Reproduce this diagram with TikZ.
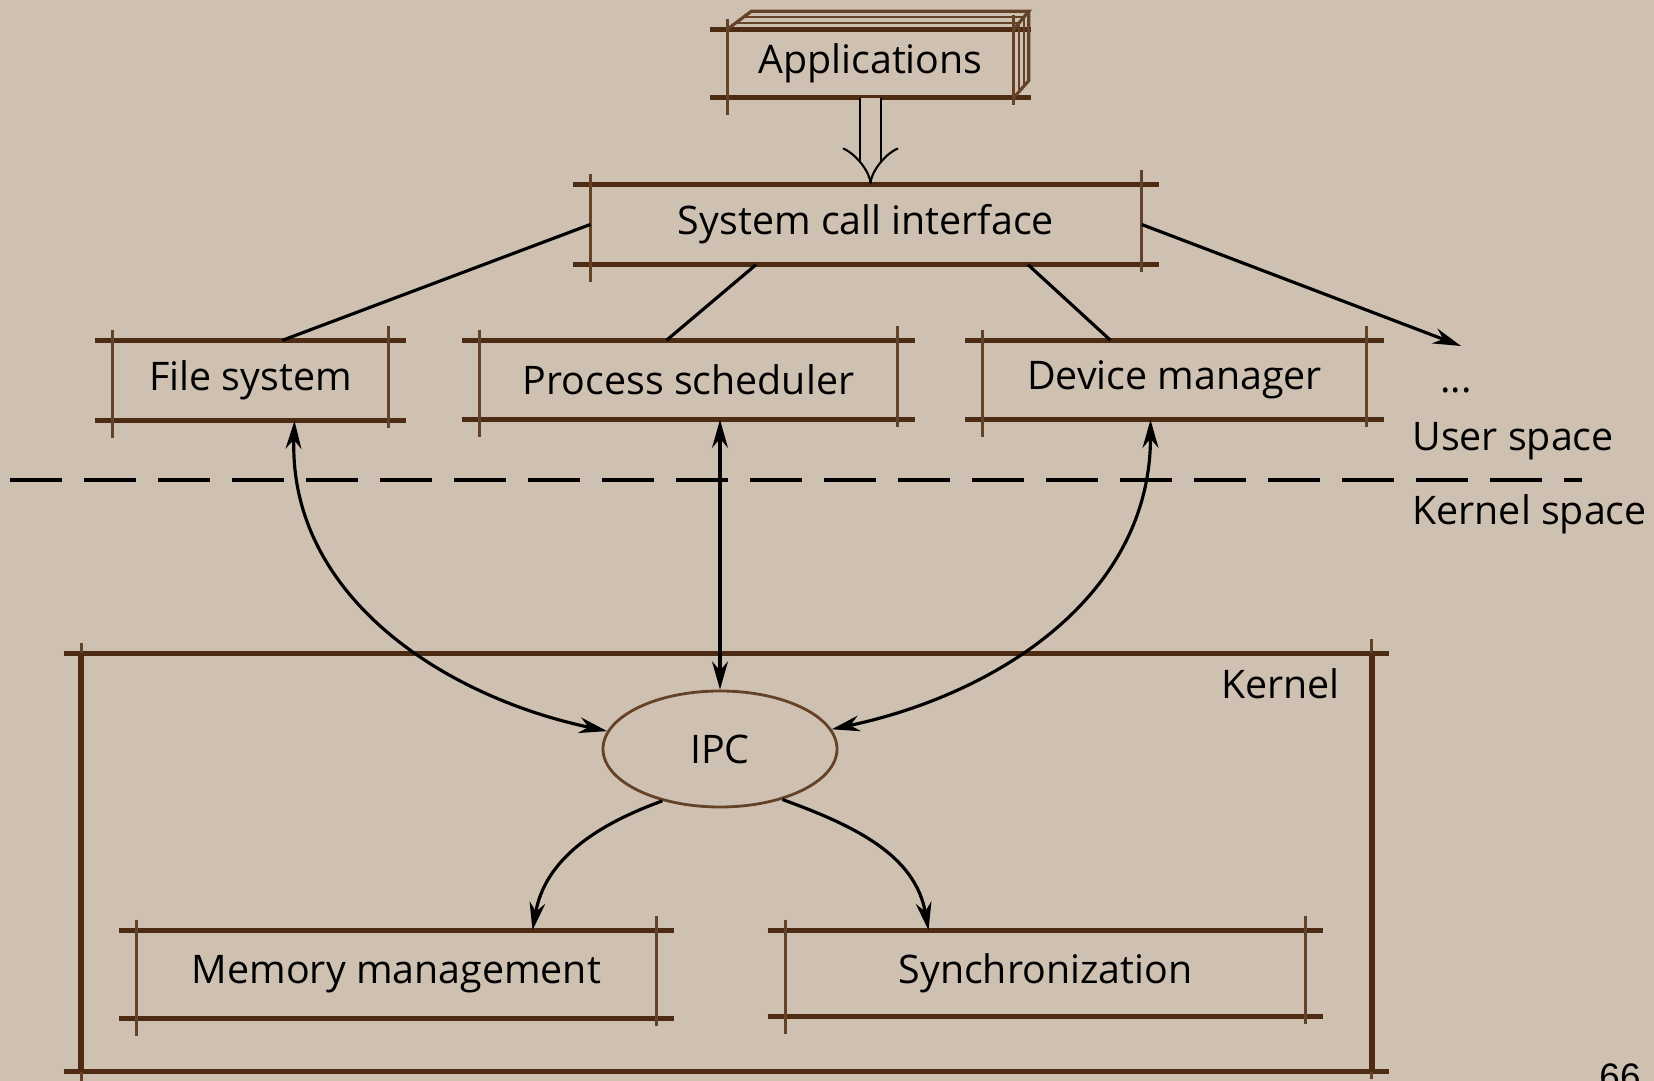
\documentclass[tikz,border=0pt]{standalone}
\usepackage{fontspec}
\setmainfont{Open Sans}
\newfontfamily\pagefont{Liberation Sans}
\usetikzlibrary{arrows.meta,shapes.geometric}
\definecolor{paper}{RGB}{206,193,177}
\definecolor{rimc}{RGB}{78,44,20}
\definecolor{sidec}{RGB}{100,66,40}
\begin{document}
\begin{tikzpicture}
[>={Stealth[length=8pt,width=4.5pt]},
every node/.append style={font=\fontsize{11.2}{13}\selectfont},
box/.style={inner sep=0pt},
rim/.style={rimc,line width=1.4pt},
side/.style={sidec,line width=0.9pt},
link/.style={black,line width=0.9pt},
cutline/.style={black,line width=1.2pt,dash pattern=on 0.52cm off 0.22cm}]
\fill[paper] (0,0) rectangle (16.54,-10.81);
\useasboundingbox (0,0) rectangle (16.54,-10.81);
% user space
\node[box,minimum width=2.85cm,minimum height=0.67cm] (app) at (8.705,-0.635) {Applications};
\node[box,minimum width=5.50cm,minimum height=0.79cm] (sci) at (8.66,-2.245) {System call interface};
\node[box,minimum width=2.75cm,minimum height=0.79cm] (fs) at (2.505,-3.805) {File system};
\node[box,minimum width=4.17cm,minimum height=0.78cm] (ps) at (6.885,-3.80) {Process scheduler};
\node[box,minimum width=3.83cm,minimum height=0.78cm] (dm) at (11.745,-3.80) {Device manager};
\node (dots) at (14.56,-3.90) {...};
\coordinate (more) at (14.61,-3.46);
\node[anchor=west] (user) at (14.00,-4.41) {User space};
\node[anchor=west] (kspace) at (14.00,-5.14) {Kernel space};
\coordinate (cutl) at (0.10,-4.80);
\coordinate (cutr) at (15.82,-4.80);
% kernel
\node[box,minimum width=12.89cm,minimum height=4.17cm] (kernel) at (7.265,-8.625) {};
\node[anchor=east] (klabel) at (13.52,-6.84) {Kernel};
\node[ellipse,draw=sidec,line width=0.8pt,minimum width=2.34cm,minimum height=1.16cm] (ipc) at (7.20,-7.49) {IPC};
\node[box,minimum width=5.19cm,minimum height=0.87cm] (mm) at (3.965,-9.745) {Memory management};
\node[box,minimum width=5.19cm,minimum height=0.85cm] (sync) at (10.455,-9.735) {Synchronization};
\node[anchor=north,inner sep=0pt,font=\pagefont\fontsize{10.5}{12}\selectfont] (page) at (16.20,-10.63) {66};
% sketchy outlines
\foreach \n in {app,sci,fs,ps,dm,mm,sync,kernel} {
  \draw[rim] ([xshift=-5pt]\n.north west) -- ([xshift=5pt]\n.north east);
  \draw[rim] ([xshift=-5pt]\n.south west) -- ([xshift=5pt]\n.south east);
  \draw[side] ([yshift=3pt]\n.north west) -- ([yshift=-5pt]\n.south west);
  \draw[side] ([yshift=4pt]\n.north east) -- ([yshift=-2pt]\n.south east);
}
\draw[rim,line width=1.8pt] (kernel.north west) -- (kernel.south west);
\draw[rim,line width=1.8pt] (kernel.north east) -- (kernel.south east);
\draw[side] (app.north west) -- ++(0.24,0.18) -- ([shift={(0.15,0.18)}]app.north east) -- (app.north east);
\draw[side] ([shift={(0.15,0.18)}]app.north east) -- ([shift={(0.15,0.17)}]app.south east) -- (app.south east);
\foreach \d in {0.06,0.12} {
  \draw[side,line width=0.6pt] ([shift={({1.33*\d},\d)}]app.north west) -- ([shift={({0.83*\d},\d)}]app.north east);
  \draw[side,line width=0.6pt] ([shift={({0.83*\d},\d)}]app.north east) -- ([shift={({0.83*\d},{0.95*\d})}]app.south east);
}
% connectors
\draw[black,line width=0.6pt,double=paper,double distance=5.2pt,-{Implies}] (app.south) -- (app.south |- sci.north);
\draw[link] (sci.west) -- ([xshift=3.2mm]fs.north);
\draw[link] ([xshift=-11mm]sci.south) -- ([xshift=-2.2mm]ps.north);
\draw[link] ([xshift=16.2mm]sci.south) -- ([xshift=-6.4mm]dm.north);
\draw[link,->] (sci.east) -- (more);
\draw[cutline] (cutl) -- (cutr);
\draw[link,<->] ([xshift=4.4mm]fs.south) to[out=-92,in=168] (ipc.171);
\draw[link,<->] (ipc.north |- ps.south) -- (ipc.north);
\draw[link,<->] ([xshift=-2.4mm]dm.south) to[out=-90,in=12] (ipc.10);
\draw[link,->] (ipc.-138) to[out=200,in=80] ([xshift=13.6mm]mm.north);
\draw[link,->] (ipc.-39) to[out=-20,in=100] ([xshift=-11.7mm]sync.north);
\end{tikzpicture}
\end{document}
